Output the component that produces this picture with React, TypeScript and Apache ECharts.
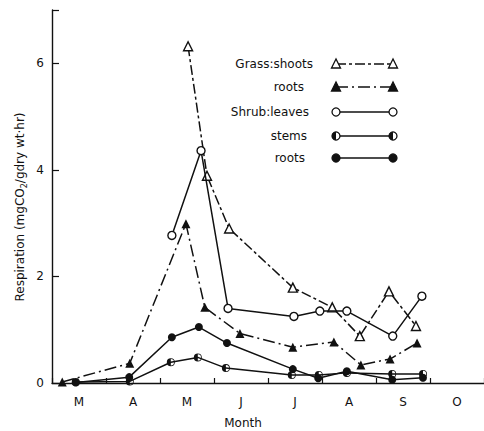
import React, { useEffect, useRef } from "react";
import * as echarts from "echarts";

const monthLabels = ["M", "A", "M", "J", "J", "A", "S", "O"];
const yTickValues = [0, 2, 4, 6];

const grassShootsMonth = [2.52, 2.87, 3.28, 4.46, 5.19, 5.7, 6.24, 6.74];
const grassShootsResp = [6.32, 3.89, 2.9, 1.79, 1.42, 0.88, 1.72, 1.07];

const grassRootsMonth = [0.19, 1.44, 2.48, 2.83, 3.48, 4.46, 5.22, 5.72, 6.26, 6.76];
const grassRootsResp = [0.02, 0.37, 2.99, 1.42, 0.93, 0.67, 0.77, 0.34, 0.45, 0.75];

const shrubLeavesMonth = [2.22, 2.76, 3.26, 4.48, 4.96, 5.46, 6.31, 6.85];
const shrubLeavesResp = [2.77, 4.36, 1.4, 1.25, 1.35, 1.35, 0.88, 1.63];

const shrubStemsMonth = [0.44, 1.44, 2.2, 2.7, 3.22, 4.44, 4.94, 5.46, 6.3, 6.87];
const shrubStemsResp = [0.02, 0.03, 0.39, 0.48, 0.28, 0.15, 0.15, 0.19, 0.17, 0.17];

const shrubRootsMonth = [0.44, 1.43, 2.22, 2.72, 3.24, 4.46, 4.93, 5.46, 6.3, 6.87];
const shrubRootsResp = [0.01, 0.11, 0.86, 1.05, 0.75, 0.26, 0.09, 0.22, 0.06, 0.1];

const INK = "#111";
const FONT = "DejaVu Sans";
const DASH_SHOOTS = [10, 3, 3, 3];
const DASH_ROOTS = [12, 4, 2, 4];

const halfCircle =
  "path://M0,-10 A10,10 0 1,1 0,10 A10,10 0 1,1 0,-10 Z M0,-8 A8,8 0 1,0 0,8 A8,8 0 1,0 0,-8 Z M0,-8 A8,8 0 0,0 0,8 Z";

const pairs = (xs: number[], ys: number[]) => xs.map((x, i) => [x, ys[i]]);

export default function App() {
  const ref = useRef<HTMLDivElement>(null);

  useEffect(() => {
    if (!ref.current) return;
    const chart = echarts.init(ref.current, undefined, { renderer: "svg" });

    const openItem = { color: "#fff", borderColor: INK, borderWidth: 1.4 };
    const solidItem = { color: INK, borderColor: INK, borderWidth: 0 };

    const legendRows = [
      { label: "Grass:shoots", right: 313, y: 64, dash: DASH_SHOOTS, kind: "openTri" },
      { label: "roots", right: 304, y: 87, dash: DASH_ROOTS, kind: "fillTri" },
      { label: "Shrub:leaves", right: 309, y: 112, dash: null, kind: "openCirc" },
      { label: "stems", right: 307, y: 136, dash: null, kind: "halfCirc" },
      { label: "roots", right: 305, y: 158, dash: null, kind: "fillCirc" },
    ];
    const x1 = 336;
    const x2 = 393;
    const mark = (kind: string, cx: number, cy: number) => {
      if (kind === "openTri" || kind === "fillTri") {
        return {
          type: "polygon",
          shape: { points: [[cx, cy - 5], [cx - 4.5, cy + 4], [cx + 4.5, cy + 4]] },
          style: { fill: kind === "openTri" ? "#fff" : INK, stroke: INK, lineWidth: 1.3 },
          z: 10,
        };
      }
      if (kind === "halfCirc") {
        return {
          type: "group",
          z: 10,
          children: [
            { type: "circle", shape: { cx, cy, r: 4 }, style: { fill: "#fff", stroke: INK, lineWidth: 1.3 }, z: 10 },
            { type: "sector", shape: { cx, cy, r: 4, r0: 0, startAngle: Math.PI / 2, endAngle: (Math.PI * 3) / 2 }, style: { fill: INK }, z: 11 },
          ],
        };
      }
      return {
        type: "circle",
        shape: { cx, cy, r: 4 },
        style: { fill: kind === "openCirc" ? "#fff" : INK, stroke: INK, lineWidth: 1.3 },
        z: 10,
      };
    };
    const legendGraphics: any[] = [];
    legendRows.forEach((r) => {
      legendGraphics.push({
        type: "text",
        x: r.right,
        y: r.y,
        style: { text: r.label, fill: INK, font: `12px "${FONT}"`, align: "right", verticalAlign: "middle" },
      });
      legendGraphics.push({
        type: "line",
        shape: { x1, y1: r.y, x2, y2: r.y },
        style: { stroke: INK, lineWidth: 1.3, lineDash: r.dash || undefined },
        z: 5,
      });
      legendGraphics.push(mark(r.kind, x1, r.y));
      legendGraphics.push(mark(r.kind, x2, r.y));
    });

    chart.setOption({
      animation: false,
      backgroundColor: "#fff",
      grid: { left: 52, right: 0, top: 10, bottom: 48, containLabel: false },
      xAxis: [
        {
          type: "value",
          min: 0,
          max: 8,
          interval: 1,
          axisLine: { show: true, lineStyle: { color: INK, width: 1.4 } },
          axisTick: { show: true, inside: true, length: 5, lineStyle: { color: INK, width: 1.2 } },
          axisLabel: { show: false },
          splitLine: { show: false },
        },
        {
          type: "category",
          data: monthLabels,
          position: "bottom",
          boundaryGap: true,
          axisLine: { show: false },
          axisTick: { show: false },
          axisLabel: { color: INK, fontFamily: FONT, fontSize: 12, margin: 13 },
          splitLine: { show: false },
        },
      ],
      yAxis: {
        type: "value",
        min: 0,
        max: 7,
        interval: 2,
        axisLine: { show: true, lineStyle: { color: INK, width: 1.4 } },
        axisTick: { show: true, inside: true, length: 7, lineStyle: { color: INK, width: 1.2 } },
        axisLabel: {
          color: INK,
          fontFamily: FONT,
          fontSize: 12,
          margin: 8,
          formatter: (v: number) => (yTickValues.includes(v) ? String(v) : ""),
        },
        splitLine: { show: false },
      },
      graphic: [
        {
          type: "text",
          x: 20,
          y: 207,
          rotation: Math.PI / 2,
          style: {
            text: "{a|Respiration (mgCO}{s|2}{a|/gdry wt·hr)}",
            align: "center",
            verticalAlign: "middle",
            fill: INK,
            rich: {
              a: { fontFamily: FONT, fontSize: 12, fill: INK, lineHeight: 16 },
              s: { fontFamily: FONT, fontSize: 8, fill: INK, lineHeight: 16, verticalAlign: "bottom", padding: [6, 0, 0, 0] },
            },
          },
        },
        {
          type: "text",
          x: 243,
          y: 423,
          style: { text: "Month", fill: INK, font: `12px "${FONT}"`, align: "center", verticalAlign: "middle" },
        },
        ...legendGraphics,
      ],
      series: [
        {
          name: "Grass:shoots",
          type: "line",
          xAxisIndex: 0,
          data: pairs(grassShootsMonth, grassShootsResp),
          symbol: "triangle",
          symbolSize: 9,
          lineStyle: { color: INK, width: 1.5, type: DASH_SHOOTS },
          itemStyle: openItem,
          z: 3,
        },
        {
          name: "Grass:roots",
          type: "line",
          xAxisIndex: 0,
          data: pairs(grassRootsMonth, grassRootsResp),
          symbol: "triangle",
          symbolSize: 9,
          lineStyle: { color: INK, width: 1.5, type: DASH_ROOTS },
          itemStyle: solidItem,
          z: 3,
        },
        {
          name: "Shrub:leaves",
          type: "line",
          xAxisIndex: 0,
          data: pairs(shrubLeavesMonth, shrubLeavesResp),
          symbol: "circle",
          symbolSize: 8,
          lineStyle: { color: INK, width: 1.5 },
          itemStyle: openItem,
          z: 4,
        },
        {
          name: "Shrub:stems",
          type: "line",
          xAxisIndex: 0,
          data: pairs(shrubStemsMonth, shrubStemsResp),
          symbol: halfCircle,
          symbolSize: 8,
          lineStyle: { color: INK, width: 1.5 },
          itemStyle: { color: INK, borderWidth: 0 },
          z: 4,
        },
        {
          name: "Shrub:roots",
          type: "line",
          xAxisIndex: 0,
          data: pairs(shrubRootsMonth, shrubRootsResp),
          symbol: "circle",
          symbolSize: 8,
          lineStyle: { color: INK, width: 1.5 },
          itemStyle: solidItem,
          z: 4,
        },
      ],
    });

    return () => chart.dispose();
  }, []);

  return (
    <div
      ref={ref}
      style={{ position: "fixed", left: 0, top: 0, width: 484, height: 431, background: "#fff" }}
    />
  );
}
